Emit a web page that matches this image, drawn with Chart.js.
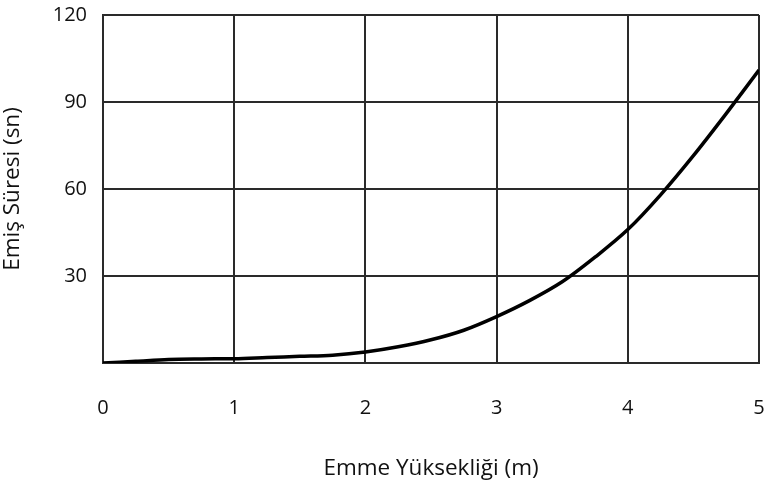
<!DOCTYPE html>
<html>
<head>
<meta charset="utf-8">
<script src="https://cdn.jsdelivr.net/npm/chart.js@4"></script>
<style>
  html, body { margin: 0; padding: 0; background: #fff; }
  #wrap { width: 774px; height: 492px; }
</style>
</head>
<body>
<div id="wrap"><canvas id="grafik"></canvas></div>
<script>
// Emme yüksekliği (m) ve emiş süresi (sn)
var yukseklik = [0, 0.25, 0.5, 0.75, 1, 1.25, 1.5, 1.75, 2, 2.25, 2.5, 2.75, 3, 3.25, 3.5, 3.75, 4, 4.25, 4.5, 4.75, 5];
var emisSuresi = [0, 0.6, 1.2, 1.4, 1.5, 1.9, 2.3, 2.7, 3.8, 5.6, 8, 11.3, 16, 21.5, 28, 36.5, 46, 58, 71.5, 86, 101];
var xTicks = [0, 1, 2, 3, 4, 5];
var yTicks = [30, 60, 90, 120];

var noktalar = yukseklik.map(function (x, i) {
    return { x: x, y: emisSuresi[i] };
});

var yazi = { family: "'Open Sans', sans-serif", size: 20 };
var baslikYazi = { family: "'Open Sans', sans-serif", size: 22.5 };
var renk = "#111";
var izgara = "#2a2a2a";

var ctx = document.getElementById("grafik").getContext("2d");
var grafik = new Chart(ctx, {
    type: "line",
    data: {
        datasets: [
            {
                label: "Emiş Süresi",
                data: noktalar,
                borderColor: "#000",
                borderWidth: 3.5,
                pointRadius: 0,
                cubicInterpolationMode: "monotone",
                fill: false,
            },
        ],
    },
    options: {
        responsive: true,
        maintainAspectRatio: false,
        animation: false,
        layout: { padding: { top: 15, right: 15, left: 0, bottom: 0 } },
        plugins: { legend: { display: false }, tooltip: { enabled: false } },
        scales: {
            x: {
                type: "linear",
                min: 0,
                max: 5,
                afterBuildTicks: function (s) {
                    s.ticks = xTicks.map(function (v) { return { value: v }; });
                },
                afterFit: function (s) {
                    s.height = 129;
                    s.paddingLeft = 0;
                    s.paddingRight = 0;
                },
                grid: { color: izgara, lineWidth: 2, drawTicks: false },
                border: { color: izgara, width: 2 },
                ticks: { color: renk, font: yazi, padding: 33, maxRotation: 0 },
                title: {
                    display: true,
                    text: "Emme Yüksekliği (m)",
                    color: renk,
                    font: baslikYazi,
                    padding: { top: 0, bottom: 10 },
                },
            },
            y: {
                min: 0,
                max: 120,
                afterBuildTicks: function (s) {
                    s.ticks = [0].concat(yTicks).map(function (v) { return { value: v }; });
                },
                afterFit: function (s) {
                    s.width = 103;
                    s.paddingTop = 0;
                    s.paddingBottom = 0;
                },
                grid: { color: izgara, lineWidth: 2, drawTicks: false },
                border: { color: izgara, width: 2 },
                ticks: {
                    color: renk,
                    font: yazi,
                    padding: 16,
                    callback: function (v) { return v === 0 ? "" : v; },
                },
                title: {
                    display: true,
                    text: "Emiş Süresi (sn)",
                    color: renk,
                    font: baslikYazi,
                    padding: { top: -1, bottom: 0 },
                },
            },
        },
    },
});
</script>
</body>
</html>
